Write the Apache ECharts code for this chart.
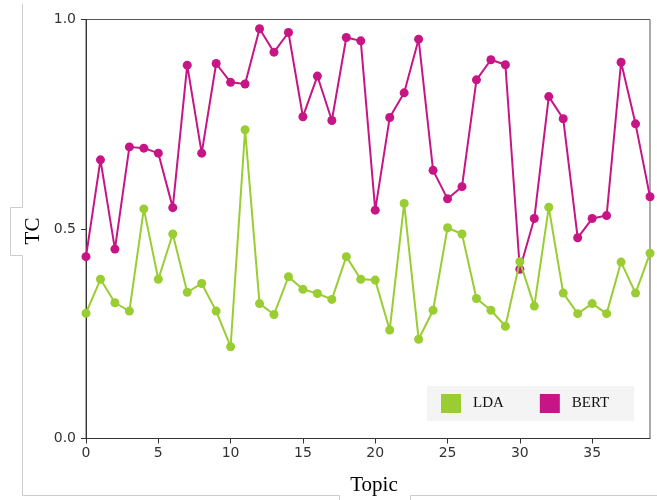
<!DOCTYPE html>
<html><head><meta charset="utf-8">
<script src="https://cdn.jsdelivr.net/npm/echarts@6/dist/echarts.min.js"></script>
<style>html,body{margin:0;padding:0;background:#fff}#c{width:657px;height:500px}</style>
</head><body><div id="c"></div>
<script>
var topics = [];
for (var t = 0; t < 40; t++) topics.push(t);
var ldaValues = [0.299,0.380,0.324,0.304,0.548,0.380,0.488,0.349,0.370,0.304,
                 0.219,0.737,0.322,0.296,0.386,0.356,0.346,0.332,0.434,0.380,
                 0.378,0.259,0.561,0.237,0.306,0.503,0.488,0.334,0.306,0.268,
                 0.422,0.316,0.552,0.347,0.298,0.322,0.298,0.421,0.347,0.442];
var bertValues = [0.434,0.665,0.452,0.696,0.693,0.681,0.551,0.891,0.681,0.895,
                  0.850,0.846,0.978,0.922,0.969,0.768,0.865,0.759,0.957,0.949,
                  0.545,0.766,0.825,0.953,0.640,0.572,0.601,0.856,0.904,0.892,
                  0.404,0.525,0.816,0.763,0.479,0.525,0.532,0.898,0.751,0.577];
var seriesNames = ['LDA', 'BERT'];
var yTicks = [0, 0.5, 1.0];

function pairs(vals){ return vals.map(function(v,i){ return [topics[i], v]; }); }

var chart = echarts.init(document.getElementById('c'), null, {renderer:'canvas'});
var frame = '#cccccc';
chart.setOption({
  animation: false,
  backgroundColor: '#ffffff',
  grid: {left: 86, right: 7, top: 19.5, bottom: 61.5, show: true, borderColor: '#555', borderWidth: 1, backgroundColor: 'transparent'},
  xAxis: {
    type: 'value', min: 0, max: 39, interval: 5,
    axisLine: {show: true, lineStyle: {color: '#333', width: 1}},
    axisTick: {show: true, length: 5, lineStyle: {color: '#333'}},
    axisLabel: {margin: 8, color: '#333', fontSize: 14, fontFamily: 'DejaVu Sans', showMaxLabel: false,
      formatter: function(v){ return v % 5 === 0 ? String(v) : ''; }},
    splitLine: {show: false}
  },
  yAxis: {
    type: 'value', min: yTicks[0], max: yTicks[yTicks.length-1], interval: 0.5,
    axisLine: {show: true, lineStyle: {color: '#333', width: 1}},
    axisTick: {show: true, length: 5, lineStyle: {color: '#333'}},
    axisLabel: {margin: 10, color: '#333', fontSize: 14, fontFamily: 'DejaVu Sans',
      formatter: function(v){ return v.toFixed(1); }},
    splitLine: {show: false}
  },
  legend: {
    data: seriesNames,
    left: 427, top: 386,
    orient: 'horizontal',
    icon: 'rect', itemWidth: 20, itemHeight: 19, itemGap: 36,
    backgroundColor: '#f4f4f4',
    padding: [8, 25, 8, 14],
    itemStyle: {borderWidth: 0},
    textStyle: {fontFamily: 'Liberation Serif', fontSize: 15, color: '#111', padding: [0,0,0,7]}
  },
  series: [
    {name: seriesNames[1], type: 'line', data: pairs(bertValues), z: 2,
     color: '#C71585', symbol: 'circle', symbolSize: 9, showSymbol: true,
     lineStyle: {width: 2, color: '#C71585'}, itemStyle: {color: '#C71585'}},
    {name: seriesNames[0], type: 'line', data: pairs(ldaValues), z: 3,
     color: '#9ACD32', symbol: 'circle', symbolSize: 9, showSymbol: true,
     lineStyle: {width: 2, color: '#9ACD32'}, itemStyle: {color: '#9ACD32'}}
  ],
  graphic: [
    {type: 'polyline', shape: {points: [[22.5,4],[22.5,207.5],[10.5,207.5],[10.5,255.5],[22.5,255.5],[22.5,495.5],[339.5,495.5],[339.5,500]]}, style: {stroke: frame, lineWidth: 1, fill: null}},
    {type: 'polyline', shape: {points: [[410.5,500],[410.5,495.5],[657,495.5]]}, style: {stroke: frame, lineWidth: 1, fill: null}},
    {type: 'text', x: 33, y: 231, rotation: Math.PI/2, style: {text: 'TC', fontFamily: 'Liberation Serif', fontSize: 21, fill: '#000', textAlign: 'center', textVerticalAlign: 'middle'}},
    {type: 'text', x: 374, y: 485, style: {text: 'Topic', fontFamily: 'Liberation Serif', fontSize: 21, fill: '#000', textAlign: 'center', textVerticalAlign: 'middle'}}
  ]
});
</script></body></html>
